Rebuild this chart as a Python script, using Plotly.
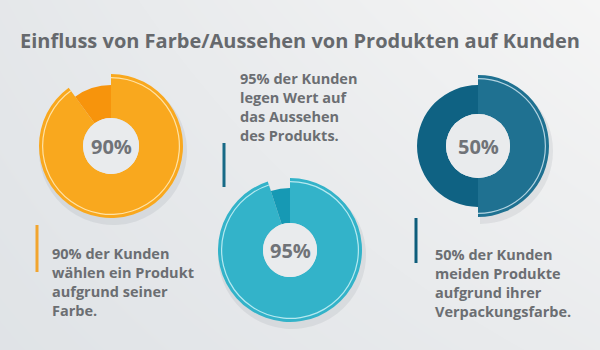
import plotly.graph_objects as go

# ---------------- data ----------------
title_text = "Einfluss von Farbe/Aussehen von Produkten auf Kunden"
donut_labels = ["90%", "95%", "50%"]
donut_values = [90, 95, 50]
block_90 = ["90% der Kunden", "wählen ein Produkt", "aufgrund seiner", "Farbe."]
block_95 = ["95% der Kunden", "legen Wert auf", "das Aussehen", "des Produkts."]
block_50 = ["50% der Kunden", "meiden Produkte", "aufgrund ihrer", "Verpackungsfarbe."]

# ---------------- layout helpers ----------------
W, H = 600, 350
FONT = "Open Sans"
TXT = "#6b6e72"


def dom(cx, cy, r):
    return dict(x=[(cx - r) / W, (cx + r) / W], y=[1 - (cy + r) / H, 1 - (cy - r) / H])


def px(x):
    return x / W


def py(y):
    return 1 - y / H


fig = go.Figure()

# background gradient
fig.add_trace(go.Heatmap(
    z=[[0.15, 0.55], [0.35, 1.0]], x=[0, 1], y=[0, 1], zsmooth="best",
    colorscale=[[0, "#dce0e4"], [1, "#f5f5f5"]], showscale=False,
    hoverinfo="skip", zmin=0, zmax=1))

# donut specs: center, main radius, minor radius, hole radius, colours
specs = [
    dict(c=(111, 146), R=72, r=61, h=28, main="#f9a81e", minor="#f7940c", line="rgba(255,236,190,0.85)"),
    dict(c=(290, 250), R=72, r=62, h=27, main="#33b3c9", minor="#1699b4", line="rgba(205,242,247,0.85)"),
    dict(c=(478, 146), R=71, r=61, h=32, main="#1f7191", minor="#0f6283", line="rgba(205,228,238,0.85)"),
]

for val, lab, s in zip(donut_values, donut_labels, specs):
    cx, cy = s["c"]
    vals = [val, 100 - val]
    # soft shadow
    fig.add_trace(go.Pie(values=vals, domain=dom(cx + 2, cy + 5, s["R"] + 2), hole=s["h"] / (s["R"] + 2),
                         sort=False, direction="clockwise", textinfo="none", hoverinfo="skip",
                         marker=dict(colors=["rgba(90,100,110,0.10)", "rgba(0,0,0,0)"], line=dict(width=0)),
                         showlegend=False))
    # main (larger) slice
    fig.add_trace(go.Pie(values=vals, domain=dom(cx, cy, s["R"]), hole=s["h"] / s["R"],
                         sort=False, direction="clockwise", textinfo="none", hoverinfo="skip",
                         marker=dict(colors=[s["main"], "rgba(0,0,0,0)"], line=dict(width=0)),
                         showlegend=False))
    # minor (smaller) slice
    fig.add_trace(go.Pie(values=vals, domain=dom(cx, cy, s["r"]), hole=s["h"] / s["r"],
                         sort=False, direction="clockwise", textinfo="none", hoverinfo="skip",
                         marker=dict(colors=["rgba(0,0,0,0)", s["minor"]], line=dict(width=0)),
                         showlegend=False))
    # thin highlight arc
    rr = s["R"] - 3
    fig.add_trace(go.Pie(values=vals, domain=dom(cx, cy, rr), hole=(rr - 1.2) / rr,
                         sort=False, direction="clockwise", textinfo="none", hoverinfo="skip",
                         marker=dict(colors=[s["line"], "rgba(0,0,0,0)"], line=dict(width=0)),
                         showlegend=False))
    # hole fill
    fig.add_trace(go.Pie(values=[1], domain=dom(cx, cy, s["h"]), textinfo="none", hoverinfo="skip",
                         marker=dict(colors=["#e9ebed"], line=dict(width=0)), showlegend=False))
    fig.add_annotation(x=px(cx), y=py(cy), xref="paper", yref="paper", text=lab, showarrow=False,
                       xanchor="center", yanchor="middle",
                       font=dict(family=FONT, size=20, color="#707378", weight=700))

# text blocks: (lines, left x, vertical centre of block)
annotations_blocks = [
    (block_90, 51, 282),
    (block_95, 239, 107),
    (block_50, 434, 283),
]
for lines, x0, yc in annotations_blocks:
    fig.add_annotation(x=px(x0), y=py(yc), xref="paper", yref="paper", text="<br>".join(lines),
                       showarrow=False, xanchor="left", yanchor="middle", align="left",
                       borderpad=0,
                       font=dict(family=FONT, size=14.5, color=TXT, weight=700))

# accent bars
bars = [(37, 225, 272, "#f2a52e"), (224, 143, 187, "#176a87"), (416, 218, 263, "#0d5d7b")]
for x, y0, y1, col in bars:
    fig.add_shape(type="line", xref="paper", yref="paper", x0=px(x), x1=px(x), y0=py(y0), y1=py(y1),
                  line=dict(color=col, width=3))

fig.add_annotation(x=0.5, y=py(40), xref="paper", yref="paper", text=title_text, showarrow=False,
                   xanchor="center", yanchor="middle",
                   font=dict(family=FONT, size=20, color="#66696d", weight=700))

fig.update_layout(
    width=W, height=H, margin=dict(l=0, r=0, t=0, b=0),
    paper_bgcolor="#e9ecee", plot_bgcolor="#e9ecee",
    xaxis=dict(visible=False, range=[0, 1], fixedrange=True),
    yaxis=dict(visible=False, range=[0, 1], fixedrange=True),
    showlegend=False,
)

fig.write_html("out.html")
